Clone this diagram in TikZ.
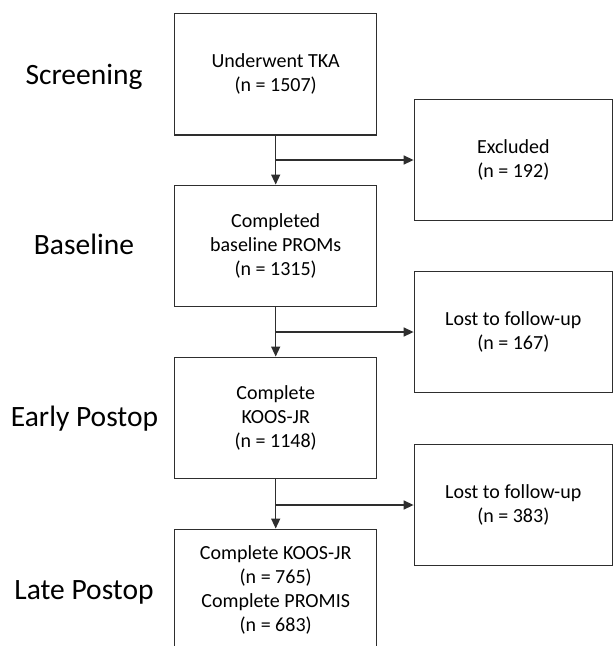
\documentclass[tikz,border=0pt]{standalone}
\usepackage{fontspec}
\setmainfont{Carlito}
\usetikzlibrary{arrows.meta}
\definecolor{linec}{HTML}{2E2E2E}
\begin{document}
\begin{tikzpicture}[x=1pt,y=-1pt,
  box/.style={draw=linec,line width=1.4pt,rectangle,align=center,inner sep=0pt,
    font=\fontsize{20}{24}\selectfont,text=black},
  lbox/.style={box,minimum width=202pt,minimum height=121.5pt},
  rbox/.style={box,minimum width=198pt,minimum height=121.5pt},
  stage/.style={font=\fontsize{29.5}{34}\selectfont,text=black,anchor=base,inner sep=0pt},
  conn/.style={draw=linec,line width=1.4pt},
  arr/.style={conn,-{Triangle[length=10pt,width=9pt]}}]
\clip (0,0) rectangle (614,646);
\fill[white] (0,0) rectangle (614,646);
% left boxes
\node[lbox] (b1) at (275.7,74.2) {Underwent TKA\\(n = 1507)};
\node[lbox] (b2) at (275.7,246) {Completed\\baseline PROMs\\(n = 1315)};
\node[lbox] (b3) at (275.7,418) {Complete\\KOOS-JR\\(n = 1148)};
\node[lbox] (b4) at (275.7,590) {Complete KOOS-JR\\(n = 765)\\Complete PROMIS\\(n = 683)};
% right boxes
\node[rbox] (r1) at (513.3,160) {Excluded\\(n = 192)};
\node[rbox] (r2) at (513.3,332) {Lost to follow-up\\(n = 167)};
\node[rbox] (r3) at (513.3,505) {Lost to follow-up\\(n = 383)};
% stage labels
\node[stage] (s1) at (84,84) {Screening};
\node[stage] (s2) at (84,254) {Baseline};
\node[stage] (s3) at (84.5,426.7) {Early Postop};
\node[stage] (s4) at (84,599) {Late Postop};
% connectors
\coordinate (j1) at (b1.south |- r1.west);
\coordinate (j2) at (b2.south |- r2.west);
\coordinate (j3) at (b3.south |- r3.west);
\draw[arr] (b1.south) -- (b2.north);
\draw[arr] (j1) -- (r1.west);
\draw[arr] (b2.south) -- (b3.north);
\draw[arr] (j2) -- (r2.west);
\draw[arr] (b3.south) -- (b4.north);
\draw[arr] (j3) -- (r3.west);
\end{tikzpicture}
\end{document}
